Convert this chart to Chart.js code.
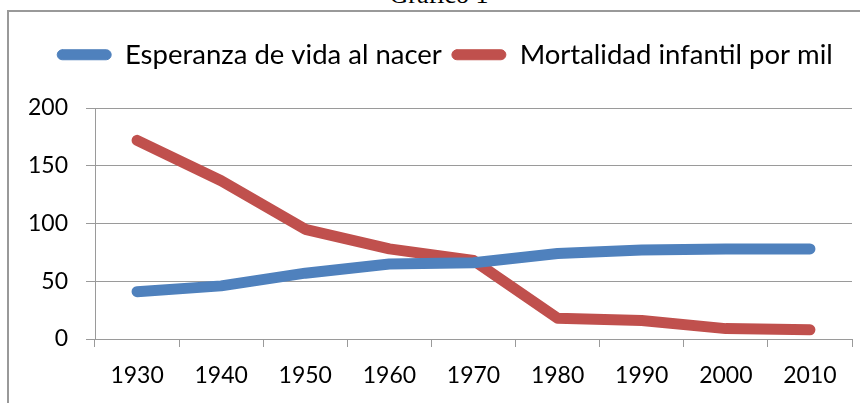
<!DOCTYPE html>
<html>
<head>
<meta charset="utf-8">
<script src="https://cdn.jsdelivr.net/npm/chart.js@4"></script>
<style>
  html, body { margin: 0; padding: 0; background: #fff; overflow: hidden; }
  #title {
    position: absolute; left: 9px; top: -18px; width: 860px;
    text-align: center; font: 26px/26px "Liberation Serif", serif; color: #000;
  }
  #frame {
    position: absolute; left: 7px; top: 10px; width: 1000px; height: 600px;
    border: 2px solid #999;
  }
  #wrap { position: absolute; left: 0; top: 0; width: 860px; height: 403px; }
</style>
</head>
<body>
<div id="title">Gráfico 1</div>
<div id="frame"></div>
<div id="wrap"><canvas id="grafico"></canvas></div>
<script>
var years = ['1930', '1940', '1950', '1960', '1970', '1980', '1990', '2000', '2010'];
var esperanza = [41, 46, 57, 65, 66, 74, 77, 78, 78];
var mortalidad = [172, 137, 95, 78, 68, 18, 16, 9, 8];
var yTicks = [0, 50, 100, 150, 200];

var gridColor = '#9a9a9a';

// legend block fills the gap above the plot and is centred a bit right
var legendSpace = {
    id: 'legendSpace',
    beforeLayout: function(chart) {
        if (chart.legend && !chart.legend._padded) {
            var fit = chart.legend.fit;
            chart.legend.fit = function() {
                fit.call(this);
                this.height = 77;
            };
            chart.legend._padded = true;
        }
    },
    afterLayout: function(chart) {
        if (chart.legend) {
            chart.legend.left = 38;
            chart.legend.right = 852;
            chart.legend.width = 852 - 38;
        }
    }
};

document.addEventListener('DOMContentLoaded', function() {
    var ctx = document.getElementById('grafico').getContext('2d');
    new Chart(ctx, {
        type: 'line',
        data: {
            labels: years,
            datasets: [{
                label: 'Esperanza de vida al nacer',
                data: esperanza,
                borderColor: '#4F81BD',
                backgroundColor: '#4F81BD',
                borderWidth: 11,
                borderCapStyle: 'round',
                borderJoinStyle: 'round',
                pointRadius: 0,
                tension: 0
            }, {
                label: 'Mortalidad infantil por mil',
                data: mortalidad,
                borderColor: '#C0504D',
                backgroundColor: '#C0504D',
                borderWidth: 11,
                borderCapStyle: 'round',
                borderJoinStyle: 'round',
                pointRadius: 0,
                tension: 0
            }]
        },
        options: {
            responsive: true,
            maintainAspectRatio: false,
            animation: false,
            layout: { padding: { left: 0, right: 8, top: 31, bottom: 0 } },
            plugins: {
                legend: {
                    position: 'top',
                    labels: {
                        color: '#000',
                        font: { family: 'Lato', size: 27.5 },
                        boxWidth: 54,
                        boxHeight: 10,
                        useBorderRadius: true,
                        borderRadius: 5,
                        padding: 10,
                        generateLabels: function(chart) {
                            var items = Chart.defaults.plugins.legend.labels.generateLabels(chart);
                            items.forEach(function(it) { it.lineWidth = 1; });
                            return items;
                        }
                    }
                },
                tooltip: { enabled: false }
            },
            scales: {
                x: {
                    offset: true,
                    afterFit: function(scale) { scale.height = 64; },
                    grid: {
                        offset: true,
                        drawOnChartArea: false,
                        drawTicks: true,
                        tickLength: 8,
                        color: gridColor
                    },
                    border: { display: true, color: gridColor, width: 1 },
                    ticks: {
                        color: '#000',
                        font: { family: 'Lato', size: 23 },
                        padding: 15,
                        maxRotation: 0
                    }
                },
                y: {
                    min: yTicks[0],
                    max: yTicks[yTicks.length - 1],
                    afterFit: function(scale) { scale.width = 95; },
                    afterBuildTicks: function(scale) {
                        scale.ticks = yTicks.map(function(v) { return { value: v }; });
                    },
                    grid: {
                        color: gridColor,
                        tickLength: 9
                    },
                    border: { display: true, color: gridColor, width: 1 },
                    ticks: {
                        color: '#000',
                        font: { family: 'Lato', size: 23 },
                        padding: 18
                    }
                }
            }
        },
        plugins: [legendSpace]
    });
});
</script>
</body>
</html>
